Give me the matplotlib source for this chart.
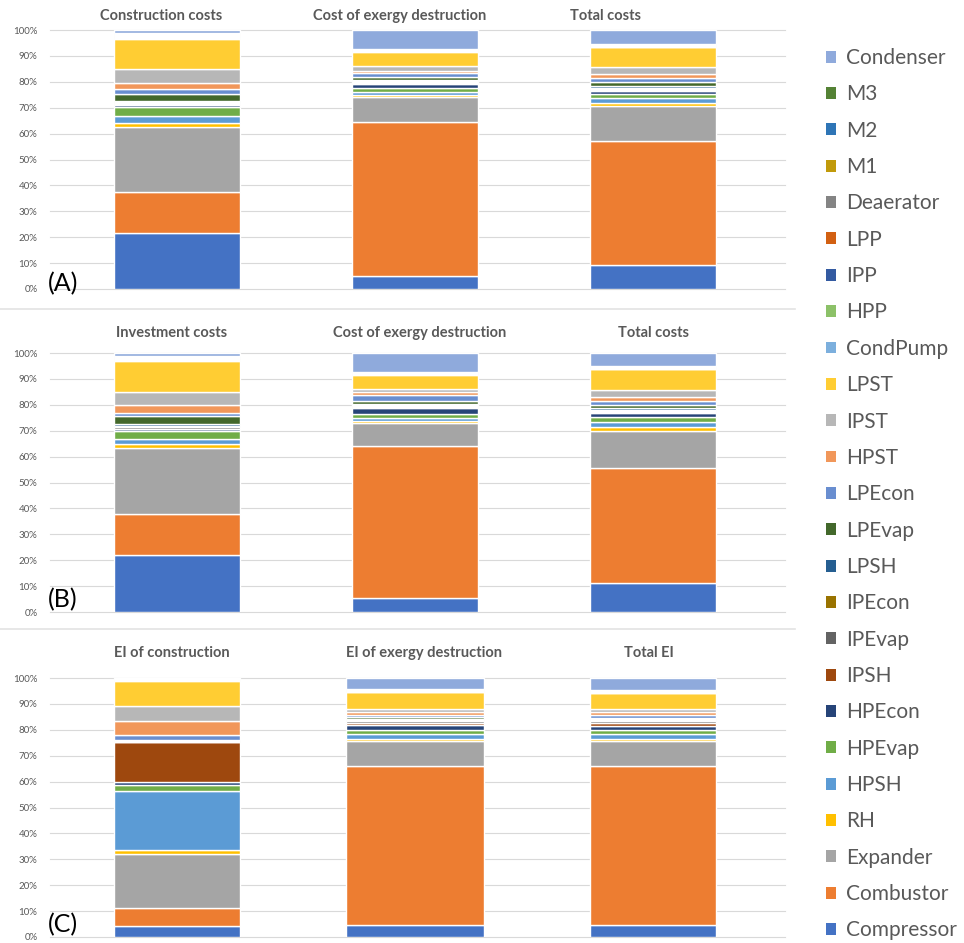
import numpy as np
import matplotlib.pyplot as plt
from matplotlib.patches import Patch
from matplotlib.lines import Line2D

plt.rcParams['font.family'] = ['Lato', 'DejaVu Sans']

# components, bottom of the stack first
components = ['Compressor', 'Combustor', 'Expander', 'RH', 'HPSH', 'HPEvap',
              'HPEcon', 'IPSH', 'IPEvap', 'IPEcon', 'LPSH', 'LPEvap', 'LPEcon',
              'HPST', 'IPST', 'LPST', 'CondPump', 'HPP', 'IPP', 'LPP',
              'Deaerator', 'M1', 'M2', 'M3', 'Condenser']
colors = ['#4472C4', '#ED7D31', '#A5A5A5', '#FFC000', '#5B9BD5', '#70AD47',
          '#264478', '#9E480E', '#636363', '#997300', '#255E91', '#43682B',
          '#698ED0', '#F1975A', '#B7B7B7', '#FFCD33', '#7CAFDD', '#8CC168',
          '#335AA1', '#D26012', '#848484', '#C19A0B', '#2E75B6', '#548235',
          '#8FAADC']

# (A) shares in %, same order as components
construction_costs = [21.6, 16.0, 25.0, 1.6, 2.7, 3.2, 0.9, 0.3, 0.5, 0.3, 0.6, 2.4, 2.0,
                      2.5, 5.3, 11.6, 0.5, 0.4, 0.3, 0.2, 0.3, 0.2, 0.2, 0.2, 1.2]
exergy_cost_a = [4.9, 59.7, 9.4, 1.0, 1.2, 1.4, 1.4, 0.4, 0.5, 0.3, 0.6, 1.2, 1.3,
                 1.0, 1.8, 5.5, 0.2, 0.2, 0.1, 0.1, 0.2, 0.1, 0.1, 0.1, 7.3]
total_costs_a = [9.2, 48.0, 13.6, 1.1, 1.7, 1.7, 1.1, 0.4, 0.5, 0.3, 0.7, 1.6, 1.6,
                 1.7, 2.7, 7.4, 0.3, 0.2, 0.2, 0.1, 0.2, 0.1, 0.1, 0.1, 5.4]

# (B)
investment_costs = [21.9, 15.9, 25.4, 1.6, 2.0, 2.9, 0.8, 0.3, 0.8, 0.3, 0.7, 3.2, 1.0,
                    3.2, 4.9, 12.1, 0.4, 0.3, 0.3, 0.2, 0.2, 0.2, 0.2, 0.2, 1.0]
exergy_cost_b = [5.5, 58.6, 8.8, 0.8, 1.3, 1.6, 2.1, 0.4, 0.5, 0.3, 0.6, 1.1, 2.2,
                 1.0, 1.2, 5.6, 0.2, 0.2, 0.1, 0.1, 0.2, 0.1, 0.1, 0.1, 7.3]
total_costs_b = [11.2, 44.3, 14.5, 1.5, 1.7, 2.0, 1.6, 0.4, 0.5, 0.3, 0.6, 1.3, 1.7,
                 1.4, 2.8, 8.0, 0.2, 0.2, 0.1, 0.1, 0.2, 0.1, 0.1, 0.1, 5.1]

# (C) environmental impact
ei_construction = [4.1, 7.2, 20.7, 1.6, 22.6, 2.3, 1.4, 15.2, 0.2, 0.2, 0.3, 0.4, 1.8,
                   5.4, 5.8, 9.7, 0.2, 0.1, 0.1, 0.1, 0.1, 0.1, 0.1, 0.1, 0.2]
ei_exergy = [4.8, 61.4, 9.3, 1.0, 1.7, 1.8, 1.7, 1.1, 0.6, 0.3, 0.5, 0.6, 0.9,
             1.1, 1.4, 6.3, 0.2, 0.2, 0.1, 0.1, 0.2, 0.1, 0.1, 0.1, 4.4]
total_ei = [4.8, 61.2, 9.6, 1.0, 1.7, 1.7, 1.7, 1.1, 0.6, 0.3, 0.5, 0.6, 0.9,
            1.1, 1.3, 6.1, 0.2, 0.2, 0.1, 0.1, 0.2, 0.1, 0.1, 0.1, 4.8]

titles_a = ['Construction costs', 'Cost of exergy destruction', 'Total costs']
titles_b = ['Investment costs', 'Cost of exergy destruction', 'Total costs']
titles_c = ['EI of construction', 'EI of exergy destruction', 'Total EI']

rows = [
    ('(A)', titles_a, [construction_costs, exergy_cost_a, total_costs_a]),
    ('(B)', titles_b, [investment_costs, exergy_cost_b, total_costs_b]),
    ('(C)', titles_c, [ei_construction, ei_exergy, total_ei]),
]

W, H = 964, 943
fig = plt.figure(figsize=(W / 100, H / 100), dpi=100)
grey = '#595959'

# pixel layout of each row: (y of 0%, y of 100%, title y, label y, title x centres)
layout = [
    (289, 30, 16, 284, [161, 400, 606]),
    (612, 353, 333, 600, [172, 420, 653]),
    (937, 678, 653, 925, [172, 424, 649]),
]
bar_widths = [[0.53, 0.53, 0.53], [0.53, 0.53, 0.53], [0.53, 0.58, 0.53]]

x = np.arange(3)
for (label, titles, series), (y0, y1, ty, ly, txs), bw in zip(rows, layout, bar_widths):
    ax = fig.add_axes([50 / W, 1 - y0 / H, 735 / W, (y0 - y1) / H])
    data = np.array(series, dtype=float)
    data = data / data.sum(axis=1, keepdims=True) * 100  # 100% stacked
    bottom = np.zeros(3)
    for i, name in enumerate(components):
        ax.bar(x, data[:, i], bottom=bottom, width=bw, color=colors[i],
               edgecolor='white', linewidth=1.0, label=name)
        bottom += data[:, i]
    ax.set_xlim(-0.534, 2.555)
    ax.set_ylim(0, 100)
    ax.set_yticks(np.arange(0, 101, 10))
    ax.set_yticklabels([f'{v}%' for v in range(0, 101, 10)])
    ax.set_xticks([])
    ax.tick_params(axis='y', length=0, labelsize=7, colors=grey, pad=9)
    ax.yaxis.grid(True, color='#D9D9D9', linewidth=0.8, clip_on=False)
    ax.set_axisbelow(True)
    for s in ax.spines.values():
        s.set_visible(False)
    for t, tx in zip(titles, txs):
        fig.text(tx / W, 1 - ty / H, t, ha='center', va='center',
                 fontsize=10.5, fontweight='bold', color=grey)
    fig.text(48 / W, 1 - ly / H, label, ha='left', va='center', fontsize=18)

# separators between the three panels
for yy in (309, 629):
    fig.add_artist(Line2D([0, 795 / W], [1 - yy / H] * 2, color='#E3E3E3', lw=1.2))

handles = [Patch(facecolor=c, label=n) for n, c in zip(components, colors)][::-1]
fig.legend(handles=handles, loc='upper left', bbox_to_anchor=(826 / W, 1 - 48 / H),
           frameon=False, fontsize=15, labelcolor=grey, handlelength=0.5,
           handleheight=0.5, handletextpad=0.45, labelspacing=0.785,
           borderpad=0, borderaxespad=0)

fig.savefig('out.png', dpi=100)
